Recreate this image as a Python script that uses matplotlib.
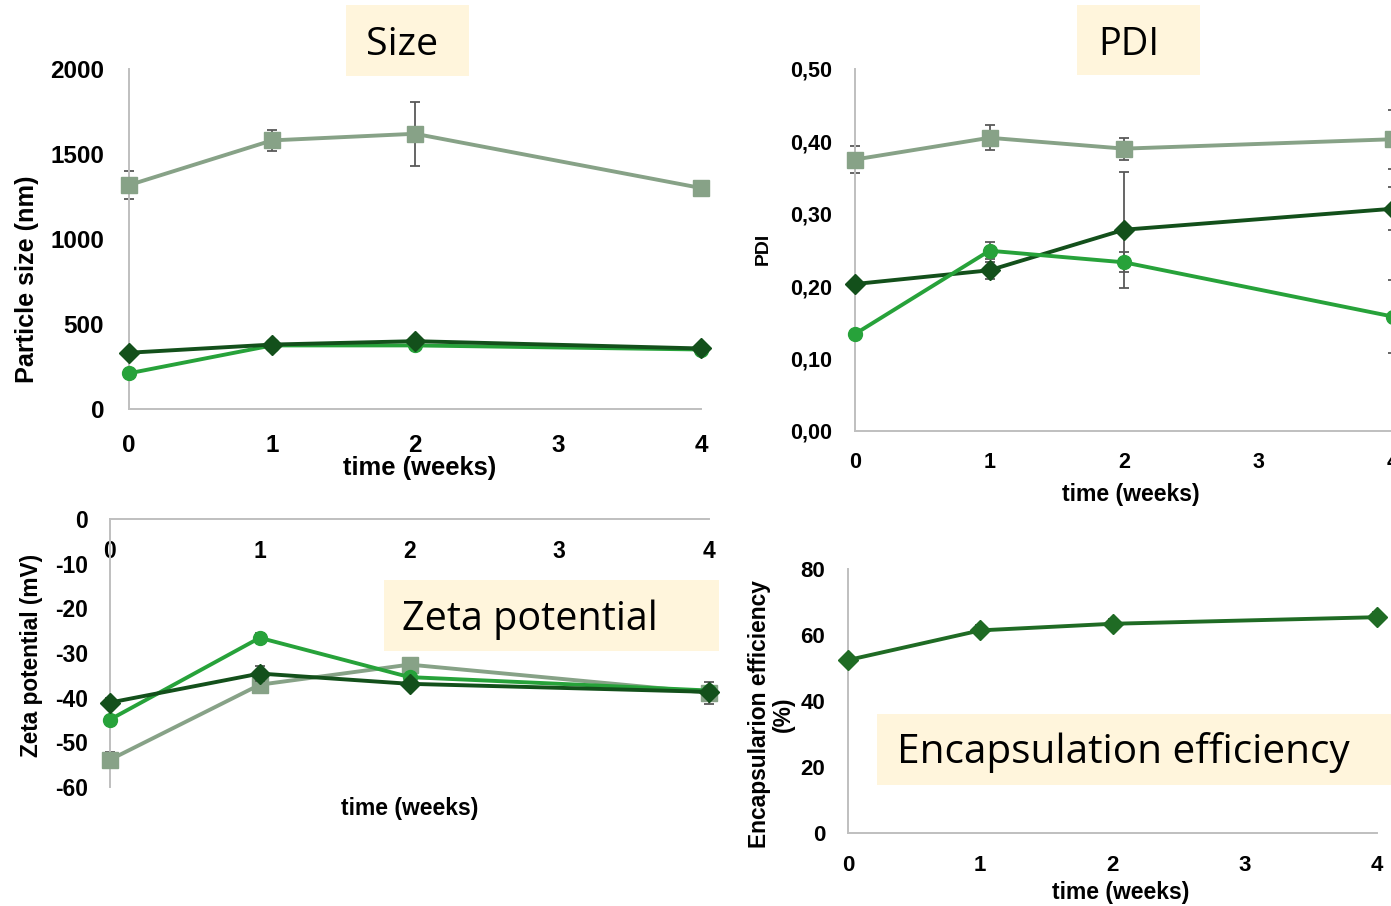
import matplotlib
matplotlib.use("Agg")
import matplotlib.pyplot as plt
from matplotlib.patches import Rectangle

plt.rcParams['font.family'] = ['Liberation Sans', 'DejaVu Sans']

# ---------------- data ----------------
weeks = [0, 1, 2, 4]
x_ticks = [0, 1, 2, 3, 4]

size_sq = [1317, 1580, 1619, 1300]
size_sq_err = [83, 60, 187, 40]
size_dia = [331, 379, 399, 356]
size_circ = [210, 374, 374, 350]

pdi_sq = [0.375, 0.405, 0.390, 0.403]
pdi_sq_err = [0.019, 0.017, 0.015, 0.041]
pdi_dia = [0.203, 0.222, 0.278, 0.307]
pdi_dia_err = [0.0, 0.012, 0.080, 0.030]
pdi_circ = [0.134, 0.249, 0.233, 0.158]
pdi_circ_err = [0.0, 0.012, 0.014, 0.050]

zeta_sq = [-53.9, -37.1, -32.6, -38.9]
zeta_sq_err = [1.8, 1.9, 0.5, 2.5]
zeta_dia = [-41.1, -34.6, -36.9, -38.7]
zeta_dia_err = [1.0, 1.7, 0.8, 0.5]
zeta_circ = [-44.9, -26.6, -35.4, -38.4]
zeta_circ_err = [0.8, 1.0, 0.5, 0.5]

ee_vals = [52.4, 61.4, 63.4, 65.4]
ee_err = [0.8, 1.5, 1.5, 1.5]

size_ticks = [0, 500, 1000, 1500, 2000]
size_ticklabels = ['0', '500', '1000', '1500', '2000']
pdi_ticks = [0.0, 0.1, 0.2, 0.3, 0.4, 0.5]
pdi_ticklabels = ['0,00', '0,10', '0,20', '0,30', '0,40', '0,50']
zeta_ticks = [0, -10, -20, -30, -40, -50, -60]
zeta_ticklabels = ['0', '-10', '-20', '-30', '-40', '-50', '-60']
ee_ticks = [0, 20, 40, 60, 80]
ee_ticklabels = ['0', '20', '40', '60', '80']

# ---------------- style ----------------
C_SQ = '#87a287'
C_DIA = '#13501b'
C_CIRC = '#27a23a'
C_EE = '#1f6b24'
C_ERR = '#595959'
C_SPINE = '#bfbfbf'
C_BOX = '#fff5dc'

W, H = 1391, 906
fig = plt.figure(figsize=(W / 100, H / 100), dpi=100)
fig.patch.set_facecolor('white')


def rect(x0, y0, x1, y1):
    """pixel box (top-left origin) -> figure fraction rect"""
    return [x0 / W, 1 - y1 / H, (x1 - x0) / W, (y1 - y0) / H]


def px(x, y):
    return x / W, 1 - y / H


def style_axes(ax, fs, xpad, ypad):
    for s in ['top', 'right']:
        ax.spines[s].set_visible(False)
    for s in ['left', 'bottom']:
        ax.spines[s].set_color(C_SPINE)
        ax.spines[s].set_linewidth(1.4)
    ax.tick_params(length=0, labelsize=fs)
    ax.tick_params(axis='x', pad=xpad)
    ax.tick_params(axis='y', pad=ypad)
    for lab in ax.get_xticklabels() + ax.get_yticklabels():
        lab.set_fontweight('bold')
    ax.patch.set_alpha(0)


MS = {'s': 11.5, 'o': 10, 'D': 10}


def series(ax, y, err, color, marker, lw=2.8, z=3):
    if err is not None:
        ax.errorbar(weeks, y, yerr=err, fmt='none', ecolor=C_ERR, elinewidth=1.3,
                    capsize=3.5, capthick=1.3, zorder=z - 0.5, clip_on=False)
    ax.plot(weeks, y, color=color, lw=lw, marker=marker, ms=MS[marker], mfc=color,
            mec=color, zorder=z, clip_on=False, solid_joinstyle='round')


# ---------- Size ----------
ax1 = fig.add_axes(rect(129, 69, 701, 409))
series(ax1, size_sq, size_sq_err, C_SQ, 's', z=3)
series(ax1, size_circ, None, C_CIRC, 'o', z=4)
series(ax1, size_dia, None, C_DIA, 'D', z=5)
ax1.set_xlim(0, 4)
ax1.set_ylim(0, 2000)
ax1.set_xticks(x_ticks)
ax1.set_yticks(size_ticks)
ax1.set_yticklabels(size_ticklabels)
style_axes(ax1, 17.5, 18, 18)

# ---------- PDI ----------
ax2 = fig.add_axes(rect(855, 69, 1393, 431))
series(ax2, pdi_sq, pdi_sq_err, C_SQ, 's', z=3)
series(ax2, pdi_dia, pdi_dia_err, C_DIA, 'D', z=4)
series(ax2, pdi_circ, pdi_circ_err, C_CIRC, 'o', z=5)
ax2.set_xlim(0, 4)
ax2.set_ylim(0, 0.5)
ax2.set_xticks(x_ticks)
ax2.set_yticks(pdi_ticks)
ax2.set_yticklabels(pdi_ticklabels)
style_axes(ax2, 15.5, 15, 16.5)

# ---------- Zeta ----------
ax3 = fig.add_axes(rect(110, 519, 709, 787))
series(ax3, zeta_sq, zeta_sq_err, C_SQ, 's', z=3)
series(ax3, zeta_circ, zeta_circ_err, C_CIRC, 'o', z=4)
series(ax3, zeta_dia, zeta_dia_err, C_DIA, 'D', z=5)
ax3.set_xlim(0, 4)
ax3.set_ylim(-60, 0)
ax3.spines['bottom'].set_position(('data', 0))
ax3.set_xticks(x_ticks)
ax3.set_yticks(zeta_ticks)
ax3.set_yticklabels(zeta_ticklabels)
style_axes(ax3, 16.5, 15, 16)

# ---------- Encapsulation efficiency ----------
ax4 = fig.add_axes(rect(848, 569, 1377, 833))
series(ax4, ee_vals, ee_err, C_EE, 'D', z=3)
ax4.set_xlim(0, 4)
ax4.set_ylim(0, 80)
ax4.set_xticks(x_ticks)
ax4.set_yticks(ee_ticks)
ax4.set_yticklabels(ee_ticklabels)
style_axes(ax4, 16, 15.5, 16.5)

renderer = fig.canvas.get_renderer()


def fit_text(x, y, s, width_px, rotation=0, size0=20, **kw):
    t = fig.text(*px(x, y), s, fontsize=size0, **kw)
    w = t.get_window_extent(renderer).width
    t.set_fontsize(size0 * width_px / w)
    t.set_rotation(rotation)
    return t


# axis labels
fit_text(27, 279, 'Particle size (nm)', 208, rotation=90, fontweight='bold', ha='center', va='center')
fit_text(420, 468, 'time (weeks)', 153, fontweight='bold', ha='center', va='center')
fig.text(*px(763, 249), 'PDI', fontsize=14, fontweight='bold', rotation=90, ha='center', va='center')
fit_text(1131, 494, 'time (weeks)', 138, fontweight='bold', ha='center', va='center')
fit_text(32, 655, 'Zeta potential (mV)', 204, rotation=90, fontweight='bold', ha='center', va='center')
fit_text(410, 808, 'time (weeks)', 137, fontweight='bold', ha='center', va='center')
fit_text(771, 714, 'Encapsularion efficiency\n(%)', 268, rotation=90, fontweight='bold',
         ha='center', va='center', multialignment='center', linespacing=1.05)
fit_text(1121, 892, 'time (weeks)', 137, fontweight='bold', ha='center', va='center')

# title boxes
for (x0, y0, x1, y1) in [(346, 5, 469, 76), (1077, 5, 1200, 75),
                         (384, 580, 719, 651), (877, 714, 1391, 785)]:
    fig.add_artist(Rectangle(px(x0, y1), (x1 - x0) / W, (y1 - y0) / H,
                             transform=fig.transFigure, facecolor=C_BOX,
                             edgecolor='none', zorder=5))

tfam = ['Open Sans', 'DejaVu Sans']
fit_text(402, 55, 'Size', 72, family=tfam, ha='center', va='baseline', zorder=6)
fit_text(1129, 55, 'PDI', 61, family=tfam, ha='center', va='baseline', zorder=6)
fit_text(402, 630, 'Zeta potential', 255, family=tfam, ha='left', va='baseline', zorder=6)
fit_text(897, 763, 'Encapsulation efficiency', 452, family=tfam, ha='left', va='baseline', zorder=6)

fig.savefig('out.png', dpi=100)
